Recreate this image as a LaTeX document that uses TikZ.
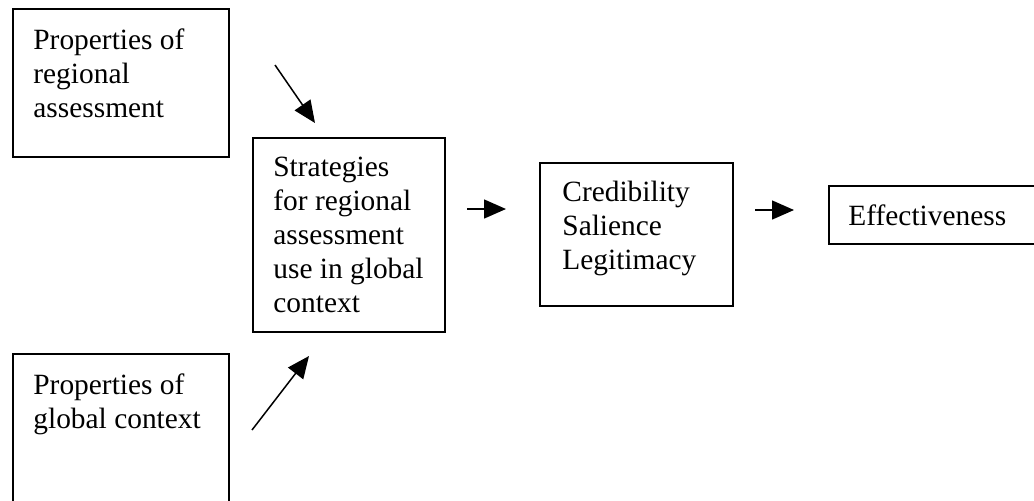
\documentclass[tikz,border=0pt]{standalone}
\usepackage{fontspec}
\setmainfont{Liberation Serif}
\usetikzlibrary{arrows.meta}
\begin{document}
\begin{tikzpicture}[x=0.5pt,y=-0.5pt,
  box/.style={draw,line width=1pt,inner sep=0pt,anchor=north west},
  txt/.style={anchor=north west,inner sep=0pt,align=left,font=\fontsize{14.7}{17}\selectfont},
  arr/.style={line width=0.75pt,-{Triangle[length=11pt,width=9.5pt]}}]
\useasboundingbox (0,0) rectangle (1034,500);
\clip (0,0) rectangle (1034,500);
% boxes
\node[box,minimum width=108pt,minimum height=74pt] (A) at (12,8) {};
\node[box,minimum width=96pt,minimum height=97pt] (B) at (252,137) {};
\node[box,minimum width=108pt,minimum height=84pt] (C) at (12,353) {};
\node[box,minimum width=96.5pt,minimum height=71.5pt] (D) at (539,162) {};
\node[box,minimum width=111pt,minimum height=29pt] (E) at (828,185) {};
% texts
\node[txt] (tA) at (33,28) {Properties of\\regional\\assessment};
\node[txt] (tB) at (273,157) {Strategies\\for regional\\assessment\\use in global\\context};
\node[txt] (tC) at (33,373) {Properties of\\global context};
\node[txt] (tD) at (562,181) {Credibility\\Salience\\Legitimacy};
\node[txt] (tE) at (848,204) {Effectiveness};
% arrow ends
\coordinate (a1s) at (275,65);  \coordinate (a1e) at (315,123);
\coordinate (a2s) at (252,430); \coordinate (a2e) at (309,356);
\coordinate (a3s) at (467,209); \coordinate (a3e) at (506,209);
\coordinate (a4s) at (755,210); \coordinate (a4e) at (794,210);
\draw[arr] (a1s) -- (a1e);
\draw[arr] (a2s) -- (a2e);
\draw[arr] (a3s) -- (a3e);
\draw[arr] (a4s) -- (a4e);
\end{tikzpicture}
\end{document}
